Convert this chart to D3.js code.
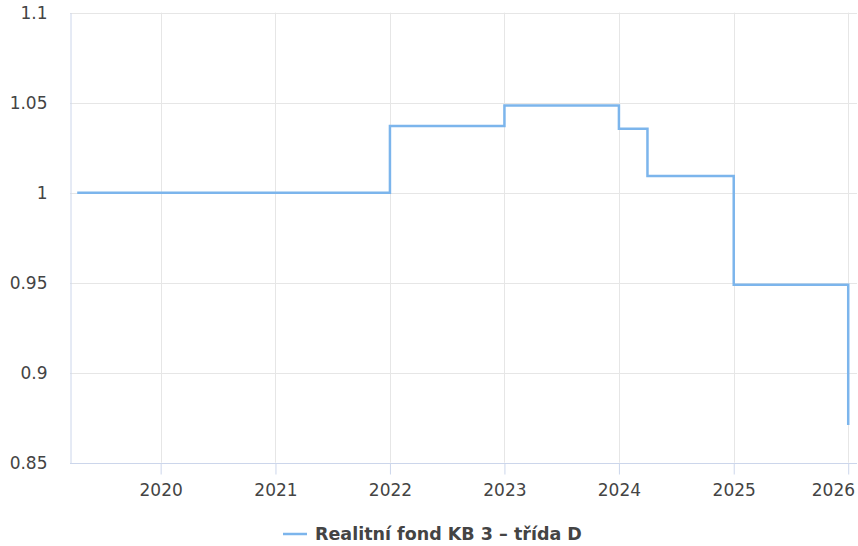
<!DOCTYPE html>
<html>
<head>
<meta charset="utf-8">
<script src="https://cdn.jsdelivr.net/npm/d3@7"></script>
<style>
  html, body { margin: 0; padding: 0; background: #fff; }
  svg { display: block; font-family: "DejaVu Sans", sans-serif; }
</style>
</head>
<body>
<svg id="chart" width="858" height="546"></svg>
<script>
// Data
const seriesName = "Realitní fond KB 3 – třída D";
const dates = ["2019-04-10", "2022-01-01", "2023-01-01", "2024-01-01", "2024-04-01", "2025-01-01", "2026-01-01"];
const values = [1.0, 1.037, 1.0485, 1.0355, 1.0093, 0.9488, 0.871];
const yTicks = [0.85, 0.9, 0.95, 1, 1.05, 1.1];
const xTickYears = [2020, 2021, 2022, 2023, 2024, 2025, 2026];
const xDomain = ["2019-03-18", "2026-01-29"];
const yDomain = [0.85, 1.1];

const parse = d3.utcParse("%Y-%m-%d");
const data = dates.map((d, i) => ({ date: parse(d), value: values[i] }));

const svg = d3.select("#chart");
const mLeft = 70, mRight = 857, mTop = 12.7, mBottom = 462.7;

const x = d3.scaleUtc().domain(xDomain.map(parse)).range([mLeft, mRight]);
const y = d3.scaleLinear().domain(yDomain).range([mBottom, mTop]);

const xTicks = xTickYears.map(yr => new Date(Date.UTC(yr, 0, 1)));

// Gridlines
svg.append("g").selectAll("line").data(yTicks).join("line")
  .attr("x1", mLeft).attr("x2", mRight)
  .attr("y1", d => Math.round(y(d)) + 0.5).attr("y2", d => Math.round(y(d)) + 0.5)
  .attr("stroke", "#e6e6e6").attr("stroke-width", 1);
svg.append("g").selectAll("line").data(xTicks).join("line")
  .attr("x1", d => Math.round(x(d)) + 0.5).attr("x2", d => Math.round(x(d)) + 0.5)
  .attr("y1", mTop).attr("y2", mBottom)
  .attr("stroke", "#e6e6e6").attr("stroke-width", 1);

// Y axis (line + labels)
const yAxis = d3.axisLeft(y).tickValues(yTicks).tickSize(0).tickPadding(23)
  .tickFormat(d => String(+d.toFixed(2)));
const gy = svg.append("g").attr("transform", `translate(${mLeft + 0.5},0)`).call(yAxis);
gy.select(".domain").attr("stroke", "#ccd6eb");
gy.selectAll("text").attr("fill", "#444").style("font-size", "17px")
  .style("font-family", "DejaVu Sans, sans-serif");

// X axis
const xAxis = d3.axisBottom(x).tickValues(xTicks).tickSize(11).tickPadding(9)
  .tickFormat(d3.utcFormat("%Y"));
const gx = svg.append("g").attr("transform", `translate(0,${Math.round(mBottom) + 0.5})`).call(xAxis);
gx.select(".domain").attr("stroke", "#ccd6eb").attr("d", `M${mLeft},0H${mRight}`);
gx.selectAll(".tick line").attr("stroke", "#ccd6eb");
gx.selectAll("text").attr("fill", "#444").style("font-size", "17px")
  .style("font-family", "DejaVu Sans, sans-serif");
// keep last label inside the chart (justify overflow)
gx.selectAll(".tick text").each(function () {
  const bb = this.getBBox();
  const tr = this.parentNode.getAttribute("transform");
  const tx = +/translate\(([-\d.]+)/.exec(tr)[1];
  const overflow = tx + bb.x + bb.width - 855;
  if (overflow > 0) d3.select(this).attr("x", -overflow);
});

// Step line
const line = d3.line().x(d => x(d.date)).y(d => y(d.value)).curve(d3.curveStepAfter);
svg.append("path").datum(data)
  .attr("d", line)
  .attr("fill", "none")
  .attr("stroke", "#7cb5ec")
  .attr("stroke-width", 2.5)
  .attr("stroke-linejoin", "miter");

// Legend
const lg = svg.append("g").attr("transform", "translate(283,534)");
lg.append("line").attr("x1", 0).attr("x2", 24).attr("y1", 0).attr("y2", 0)
  .attr("stroke", "#7cb5ec").attr("stroke-width", 2.5);
lg.append("text").attr("x", 32).attr("y", 0).attr("dy", "0.35em")
  .attr("fill", "#444").style("font-size", "17.5px").style("font-weight", "bold")
  .text(seriesName);
</script>
</body>
</html>
